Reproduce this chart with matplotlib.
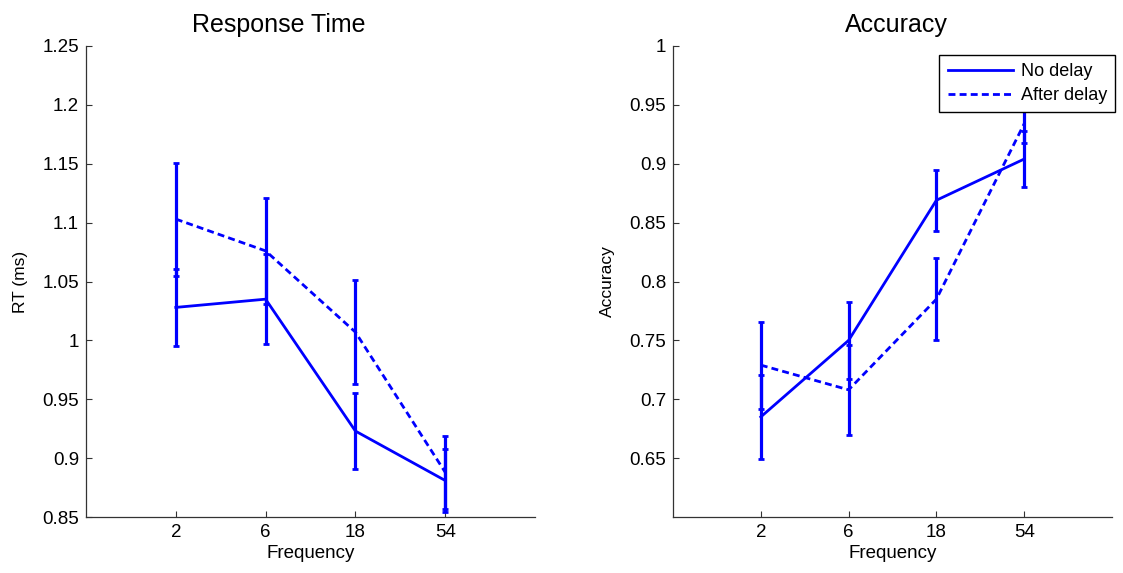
import matplotlib
matplotlib.use("Agg")
import matplotlib.pyplot as plt

plt.rcParams['font.family'] = ['Liberation Sans', 'DejaVu Sans']

# ---- data ----
freq_labels = ['2', '6', '18', '54']
series_names = ['No delay', 'After delay']

rt_no = [1.028, 1.035, 0.923, 0.881]
rt_no_err = [0.033, 0.038, 0.032, 0.027]
rt_after = [1.103, 1.076, 1.007, 0.888]
rt_after_err = [0.048, 0.045, 0.044, 0.031]

acc_no = [0.685, 0.750, 0.869, 0.904]
acc_no_err = [0.036, 0.033, 0.026, 0.0235]
acc_after = [0.729, 0.708, 0.785, 0.934]
acc_after_err = [0.037, 0.038, 0.035, 0.016]

rt_ticks = [0.85, 0.9, 0.95, 1.0, 1.05, 1.1, 1.15, 1.2, 1.25]
rt_tick_labels = ['0.85', '0.9', '0.95', '1', '1.05', '1.1', '1.15', '1.2', '1.25']
acc_ticks = [0.65, 0.7, 0.75, 0.8, 0.85, 0.9, 0.95, 1.0]
acc_tick_labels = ['0.65', '0.7', '0.75', '0.8', '0.85', '0.9', '0.95', '1']

W, H = 1123, 573
fig = plt.figure(figsize=(W / 100, H / 100), dpi=100)
fig.patch.set_facecolor('white')

ax1 = fig.add_axes([86 / W, (H - 517) / H, (535 - 86) / W, (517 - 46) / H])
ax2 = fig.add_axes([673 / W, (H - 517) / H, (1112 - 673) / W, (517 - 46) / H])

x = list(range(1, len(freq_labels) + 1))
blue = (0, 0, 1)
dash = (0, (2.5, 1.5))


def draw(ax, no, no_err, after, after_err):
    e1 = ax.errorbar(x, no, yerr=no_err, color=blue, lw=2.0, linestyle='-',
                     elinewidth=2.3, capsize=2.5, capthick=2.0)
    e2 = ax.errorbar(x, after, yerr=after_err, color=blue, lw=2.0, linestyle=dash,
                     elinewidth=2.3, capsize=2.5, capthick=2.0)
    return e1, e2


def style(ax, yticks, ylabels, ylim, ylab, title, title_x):
    ax.set_xlim(0, 5)
    ax.set_ylim(*ylim)
    ax.set_xticks(x, freq_labels)
    ax.set_yticks(yticks, ylabels)
    for s in ['top', 'right']:
        ax.spines[s].set_visible(False)
    for s in ['left', 'bottom']:
        ax.spines[s].set_color('#333333')
        ax.spines[s].set_linewidth(0.9)
    ax.tick_params(direction='in', length=4, width=0.8, labelsize=13.5,
                   colors='#333333', labelcolor='black', pad=5)
    ax.set_xlabel('Frequency', fontsize=13.5, labelpad=3)
    ax.set_ylabel(ylab, fontsize=12.5)
    ax.set_title(title, fontsize=18, pad=10, x=title_x)


draw(ax1, rt_no, rt_no_err, rt_after, rt_after_err)
style(ax1, rt_ticks, rt_tick_labels, (0.85, 1.25), 'RT (ms)', 'Response Time', 0.43)
ax1.yaxis.set_label_coords(-0.129, 0.5)

h1, h2 = draw(ax2, acc_no, acc_no_err, acc_after, acc_after_err)
style(ax2, acc_ticks, acc_tick_labels, (0.6, 1.0), 'Accuracy', 'Accuracy', 0.51)
ax2.yaxis.set_label_coords(-0.132, 0.5)

leg = ax2.legend([h1[0], h2[0]], series_names, loc='upper right',
                 bbox_to_anchor=(1.007, 0.981), fontsize=13, frameon=True,
                 fancybox=False, handlelength=3.6, handletextpad=0.45,
                 borderpad=0.45, labelspacing=0.4, borderaxespad=0.0)
leg.get_frame().set_edgecolor('black')
leg.get_frame().set_linewidth(1.0)
leg.get_frame().set_alpha(1)

fig.savefig('out.png', dpi=100, facecolor='white')
